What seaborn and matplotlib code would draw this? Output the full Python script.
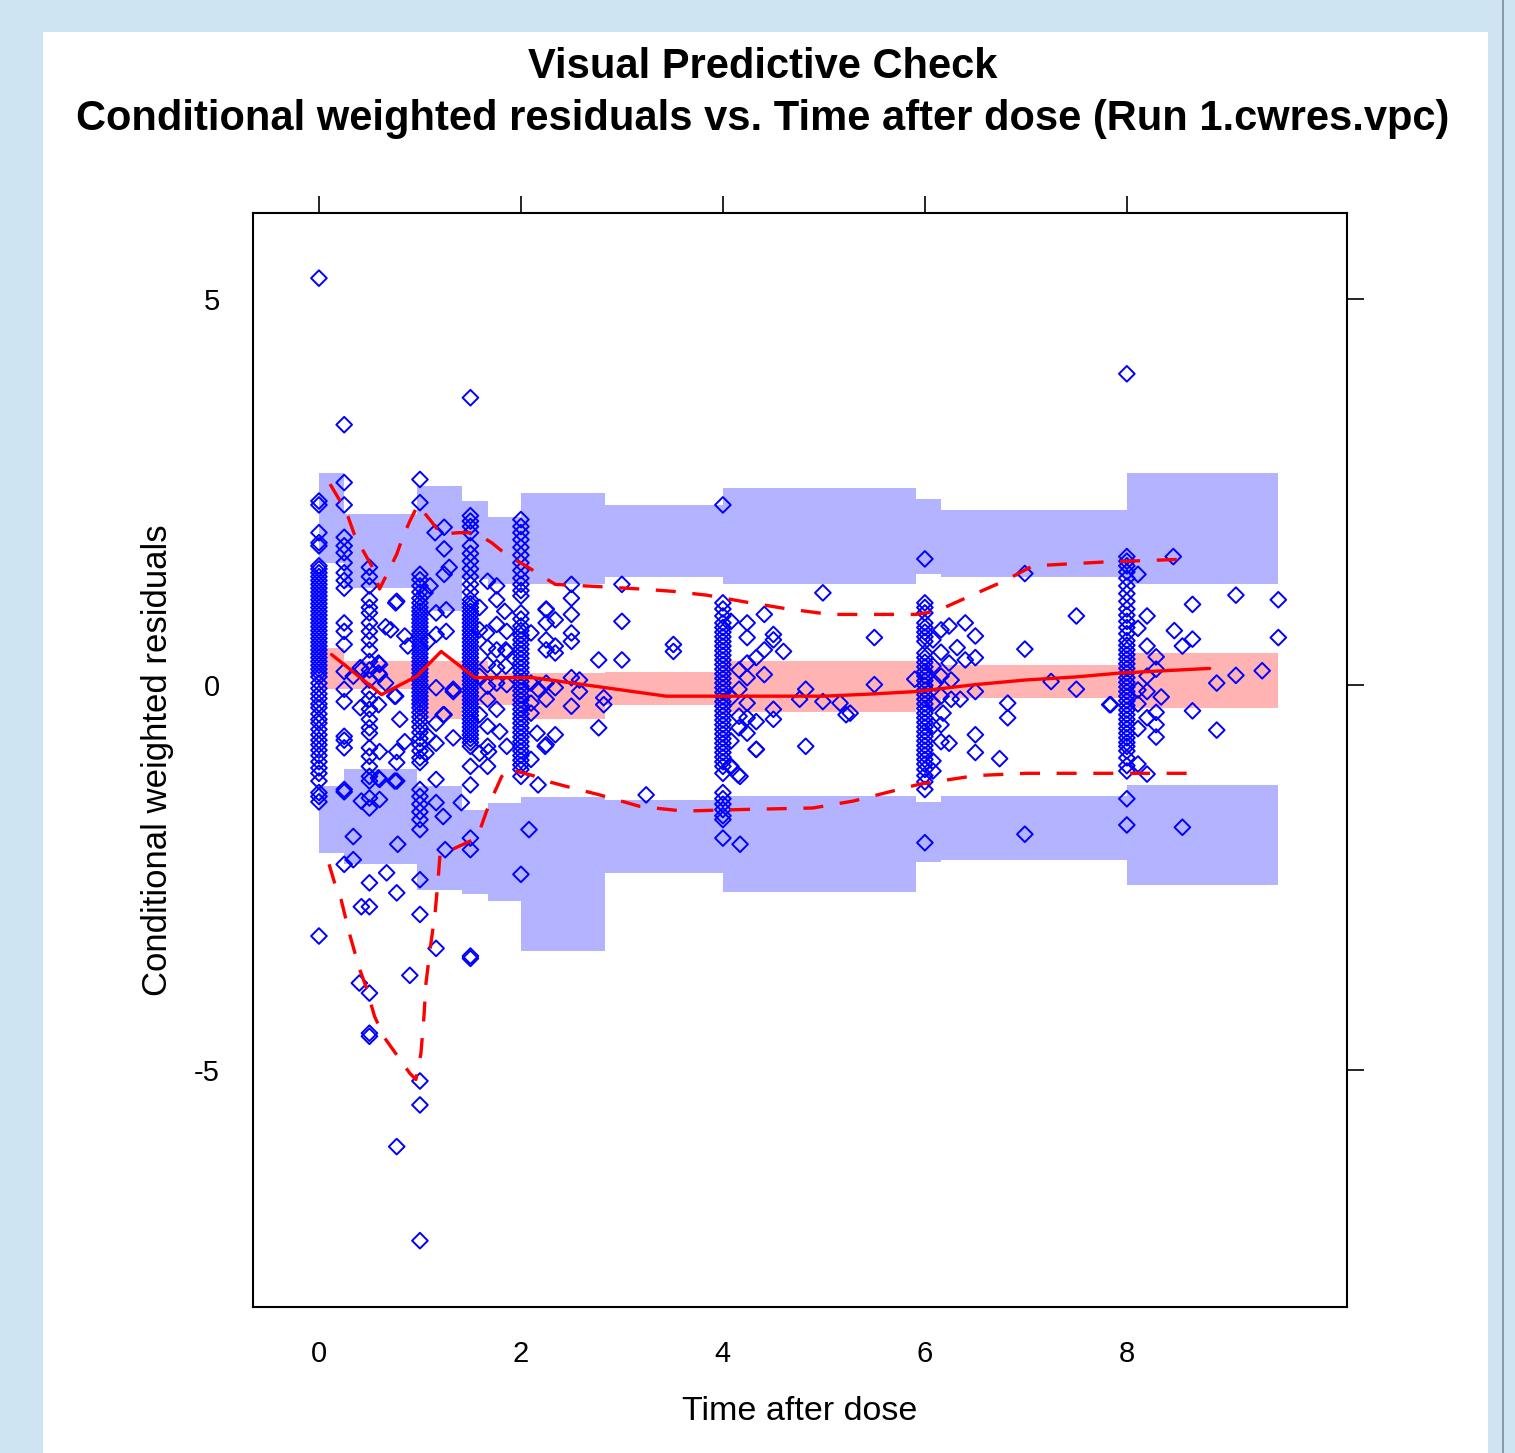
import numpy as np
import pandas as pd
import matplotlib
matplotlib.use("Agg")
import matplotlib.pyplot as plt
import seaborn as sns
from matplotlib.patches import Rectangle

# observed CWRES at nominal sampling times (dense columns)
y_t0 = [5.27, 2.38, 2.33, 1.97, 1.84, 1.80, 1.54, 1.50, 1.45, 1.40, 1.35, 1.30, 1.25, 1.20,
        1.15, 1.10, 1.05, 1.00, 0.95, 0.90, 0.85, 0.80, 0.75, 0.70, 0.65, 0.60, 0.55, 0.50,
        0.45, 0.40, 0.35, 0.30, 0.25, 0.20, 0.15, 0.10, 0.02, -0.05, -0.12, -0.18, -0.25,
        -0.30, -0.38, -0.45, -0.50, -0.58, -0.65, -0.72, -0.78, -0.85, -0.92, -1.00, -1.08,
        -1.15, -1.25, -1.40, -1.45, -1.52, -3.26]
y_t025 = [3.37, 2.62, 2.33, 1.91, 1.80, 1.71, 1.58, 1.45, 1.35, 1.25, 0.80, 0.69, 0.52,
          0.17, -0.06, -0.22, -0.67, -0.72, -0.82, -1.36, -1.39, -2.33]
y_t05 = [1.52, 1.40, 1.28, 1.10, 1.00, 0.93, 0.80, 0.69, 0.58, 0.45, 0.30, 0.19, 0.06,
         -0.09, -0.19, -0.32, -0.45, -0.56, -0.63, -0.82, -0.93, -1.06, -1.19, -1.25,
         -1.47, -1.60, -2.57, -2.88, -4.00, -4.52, -4.56]
y_t1 = [2.66, 2.36, 1.43, 1.36, 1.28, 1.20, 1.12, 1.06, 1.00, 0.95, 0.90, 0.85, 0.80, 0.75,
        0.70, 0.65, 0.60, 0.55, 0.50, 0.45, 0.40, 0.35, 0.30, 0.25, 0.20, 0.15, 0.10, 0.05,
        0.00, -0.05, -0.10, -0.15, -0.20, -0.25, -0.30, -0.36, -0.42, -0.48, -0.55, -0.62,
        -0.70, -0.78, -0.86, -0.95, -1.01, -1.36, -1.45, -1.55, -1.65, -1.75, -1.88, -2.53,
        -2.98, -5.14, -5.45, -7.21]
y_t15 = [3.72, 2.19, 2.12, 2.05, 1.97, 1.80, 1.70, 1.60, 1.50, 1.40, 1.30, 1.20, 1.10, 1.05,
         1.00, 0.95, 0.90, 0.85, 0.80, 0.75, 0.70, 0.65, 0.60, 0.55, 0.50, 0.45, 0.40, 0.35,
         0.30, 0.25, 0.20, 0.15, 0.10, 0.05, 0.00, -0.05, -0.10, -0.15, -0.20, -0.25, -0.30,
         -0.35, -0.40, -0.45, -0.50, -0.55, -0.60, -0.65, -0.70, -0.75, -0.80, -1.06, -1.30,
         -1.99, -2.14, -3.52, -3.55]
y_t2 = [2.14, 2.05, 1.97, 1.88, 1.78, 1.68, 1.58, 1.48, 1.38, 1.30, 1.22, 1.15, 0.93, 0.85,
        0.76, 0.70, 0.64, 0.58, 0.52, 0.46, 0.40, 0.34, 0.28, 0.22, 0.16, 0.10, 0.04, -0.02,
        -0.08, -0.14, -0.20, -0.26, -0.32, -0.38, -0.44, -0.50, -0.56, -0.62, -0.68, -0.74,
        -0.80, -0.86, -0.92, -0.98, -1.04, -1.10, -1.19, -2.46]
y_t4 = [2.33, 1.06, 0.98, 0.89, 0.80, 0.74, 0.68, 0.62, 0.56, 0.50, 0.44, 0.38, 0.32, 0.26,
        0.20, 0.14, 0.08, 0.02, -0.04, -0.10, -0.16, -0.22, -0.28, -0.34, -0.40, -0.46,
        -0.52, -0.58, -0.64, -0.70, -0.76, -0.82, -0.88, -0.94, -1.00, -1.06, -1.15, -1.40,
        -1.48, -1.55, -1.62, -1.70, -1.75, -1.99]
y_t6 = [1.63, 1.06, 1.00, 0.93, 0.80, 0.74, 0.68, 0.62, 0.56, 0.41, 0.35, 0.29, 0.23, 0.17,
        0.11, 0.05, -0.01, -0.07, -0.13, -0.19, -0.25, -0.31, -0.37, -0.43, -0.49, -0.55,
        -0.61, -0.67, -0.73, -0.79, -0.85, -0.91, -0.97, -1.03, -1.10, -1.18, -1.26, -1.36,
        -2.05]
y_t8 = [4.03, 1.66, 1.60, 1.54, 1.46, 1.38, 1.28, 1.18, 1.08, 0.98, 0.90, 0.82, 0.74, 0.66,
        0.57, 0.51, 0.45, 0.39, 0.33, 0.27, 0.21, 0.15, 0.09, 0.03, -0.03, -0.09, -0.15,
        -0.21, -0.27, -0.33, -0.39, -0.45, -0.51, -0.57, -0.63, -0.69, -0.75, -0.80, -0.86,
        -0.95, -1.05, -1.12, -1.48, -1.82]

# observed CWRES at off-nominal times
scat_x = [0.34, 0.42, 0.60, 0.60, 0.66, 0.71, 0.76, 0.77, 0.85, 0.88, 0.76, 0.80, 0.85, 0.77,
          0.77, 0.60, 0.60, 0.77, 0.34, 0.42, 0.60, 0.78, 0.67, 0.77, 0.42, 0.34, 0.90, 0.77,
          0.40, 0.59, 0.75, 0.41, 0.59, 0.59, 0.75, 0.59, 0.41, 0.66,
          1.15, 1.24, 1.24, 1.29, 1.24, 1.10, 1.05, 1.67, 1.76, 1.76, 1.59, 1.84, 1.16, 1.26,
          1.16, 1.26, 1.08, 1.16, 1.33, 1.24, 1.16, 1.08, 1.16, 1.33, 1.06, 1.16, 1.23, 1.16,
          1.41, 1.59, 1.66, 1.76, 1.86, 1.67, 1.76, 1.86, 1.67, 1.76, 1.59, 1.67, 1.76, 1.86,
          1.67, 1.76, 1.59, 1.67, 1.79, 1.67, 1.59, 1.67, 1.86, 1.85, 1.85, 1.16, 1.25, 1.68,
          1.33, 1.23,
          2.50, 3.00, 2.50, 2.50, 3.00, 2.50, 2.50, 2.25, 2.34, 2.25, 2.10, 2.25, 2.34, 2.25,
          2.34, 2.77, 3.00, 3.51, 3.51, 2.50, 2.58, 2.58, 2.50, 2.82, 2.82, 2.10, 2.17, 2.25,
          2.34, 2.10, 2.25, 2.10, 2.16, 2.34, 2.25, 2.77, 2.10, 2.17, 3.24, 2.08, 2.25, 2.24,
          4.08, 4.24, 4.24, 4.41, 4.50, 4.50, 4.60, 4.41, 4.33, 4.24, 4.16, 4.24, 4.41, 4.16,
          4.24, 4.08, 4.16, 4.24, 4.33, 4.16, 4.24, 4.08, 4.33, 4.07, 4.15, 4.50, 4.50, 4.82,
          4.82, 4.99, 4.76, 4.99, 5.16, 5.22, 4.17, 4.08, 4.17, 4.33, 5.50, 5.50, 5.26,
          5.90, 6.16, 6.24, 6.08, 6.16, 6.24, 6.08, 6.16, 6.26, 6.10, 6.16, 6.08, 6.26, 6.35,
          6.18, 6.16, 6.08, 6.16, 6.24, 6.08, 6.08, 6.40, 6.50, 6.32, 6.40, 6.50, 6.50, 6.82,
          6.82, 6.50, 6.50, 6.74, 6.99, 6.99, 7.25, 7.50, 7.50, 7.83, 6.99,
          8.11, 8.20, 8.11, 8.20, 8.29, 8.20, 8.29, 8.11, 8.20, 8.34, 8.11, 8.20, 8.29, 8.29,
          8.29, 8.11, 8.11, 8.20, 8.46, 8.47, 8.55, 8.65, 8.65, 9.08, 9.50, 9.50, 8.89, 9.08,
          9.34, 8.65, 8.89, 7.84, 8.55]
scat_y = [0.11, 0.19, 0.26, 0.13, 0.75, 0.71, 1.06, 1.08, 0.63, 0.50, -0.15, -0.45, -0.74,
          -0.87, -1.01, -0.87, -1.23, -1.25, -1.97, -1.51, -1.49, -2.07, -2.44, -2.70, -2.88,
          -2.27, -3.77, -5.99, -3.87, -1.21, -1.25, 0.22, 0.28, 0.15, -0.15, -0.26, -0.30, 0.02,
          1.97, 2.04, 1.76, 1.52, 1.43, 1.28, 1.19, 1.34, 1.28, 1.10, 1.00, 0.95, 0.93, 0.97,
          0.65, 0.69, 0.56, -0.04, -0.06, -0.39, -0.50, -0.67, -0.76, -0.69, -0.89, -1.23,
          -1.71, -1.53, -1.53, 0.71, 0.67, 0.78, 0.69, 0.48, 0.45, 0.43, 0.26, 0.22, 0.11,
          -0.02, 0.02, 0.00, -0.19, -0.32, -0.39, -0.54, -0.61, -0.80, -0.89, -1.06, -0.80,
          0.45, 0.24, -3.42, -2.14, -0.87, -0.09, -0.39,
          1.30, 1.30, 1.12, 0.91, 0.82, 0.67, 0.56, 0.97, 0.84, 0.80, 0.67, 0.58, 0.50, 0.45,
          0.41, 0.32, 0.32, 0.52, 0.43, 0.09, 0.06, -0.09, -0.28, -0.17, -0.26, 0.02, -0.06,
          0.02, -0.04, -0.24, -0.19, -0.37, -0.63, -0.65, -0.78, -0.56, -0.97, -1.30, -1.43,
          -1.88, 0.98, -0.80,
          0.82, 0.80, 0.61, 0.91, 0.65, 0.58, 0.43, 0.45, 0.35, 0.28, 0.19, 0.09, 0.13, -0.06,
          -0.24, -0.17, -0.41, -0.43, -0.48, -0.56, -0.63, -0.73, -0.84, -1.06, -1.17, -0.32,
          -0.45, -0.06, -0.80, 1.19, -0.19, -0.22, -0.24, -0.39, -1.19, -1.06, -2.07, -0.84,
          0.61, 0.00, -0.37,
          0.07, 0.71, 0.76, 0.58, 0.42, 0.28, 0.24, 0.11, 0.06, 0.02, -0.15, -0.24, -0.19,
          -0.19, -0.37, -0.52, -0.54, -0.74, -0.76, -0.99, -1.12, 0.80, 0.63, 0.48, 0.32,
          0.35, -0.09, -0.24, -0.43, -0.65, -0.88, -0.96, 1.44, 0.46, 0.04, 0.89, -0.06,
          -0.26, -1.94,
          1.43, 0.89, 0.73, 0.50, 0.36, 0.11, 0.20, -0.07, -0.09, -0.16, -0.25, -0.43, -0.36,
          -0.52, -0.68, -0.57, -1.03, -1.16, 1.66, 0.70, 0.50, 0.59, 1.04, 1.16, 1.10, 0.61,
          0.02, 0.12, 0.18, -0.34, -0.59, -0.26, -1.85]

# simulated prediction intervals, binned
bin_edges = [0.0, 0.25, 0.97, 1.42, 1.67, 2.0, 2.83, 4.0, 5.91, 6.16, 8.0, 9.5]
pi_hi_top = [2.75, 2.21, 2.58, 2.38, 2.17, 2.49, 2.33, 2.55, 2.41, 2.27, 2.75]
pi_hi_bot = [1.58, 1.25, 0.95, 1.37, 1.30, 1.30, 1.39, 1.30, 1.43, 1.39, 1.31]
pi_med_top = [0.48, 0.30, 0.30, 0.30, 0.15, 0.15, 0.17, 0.30, 0.28, 0.26, 0.41]
pi_med_bot = [-0.06, -0.06, -0.45, -0.26, -0.26, -0.45, -0.26, -0.35, -0.30, -0.18, -0.30]
pi_lo_top = [-1.32, -1.10, -1.32, -1.62, -1.53, -1.46, -1.49, -1.45, -1.52, -1.45, -1.30]
pi_lo_bot = [-2.18, -2.32, -2.66, -2.71, -2.80, -3.46, -2.44, -2.69, -2.30, -2.27, -2.60]

# observed percentiles
med_x = [0.125, 0.62, 0.97, 1.21, 1.545, 2.12, 2.62, 3.11, 3.44, 4.0, 4.5, 5.0, 5.5, 5.91,
         6.5, 7.0, 7.5, 7.93, 8.82]
med_y = [0.39, -0.13, 0.11, 0.43, 0.09, 0.09, 0.0, -0.09, -0.15, -0.15, -0.15, -0.15, -0.12,
         -0.09, 0.0, 0.06, 0.10, 0.15, 0.21]
p95_x = [0.11, 0.21, 0.29, 0.35, 0.44, 0.53, 0.60, 0.68, 0.77, 0.83, 0.90, 0.98, 1.11, 1.21,
         1.38, 1.55, 1.71, 1.87, 2.05, 2.18, 2.34, 2.78, 3.18, 3.50, 3.84, 4.23, 4.60, 5.06,
         5.91, 6.11, 6.45, 6.78, 7.07, 7.78, 8.65]
p95_y = [2.60, 2.38, 2.17, 1.95, 1.73, 1.52, 1.24, 1.45, 1.69, 1.91, 2.12, 2.33, 2.12, 1.95,
         1.97, 1.97, 1.84, 1.67, 1.54, 1.43, 1.30, 1.27, 1.24, 1.21, 1.16, 1.07, 0.99, 0.91,
         0.91, 0.95, 1.15, 1.34, 1.54, 1.59, 1.63]
p05_x = [0.10, 0.155, 0.22, 0.30, 0.40, 0.47, 0.55, 0.65, 0.90, 0.96, 1.01, 1.04, 1.06, 1.10,
         1.15, 1.18, 1.20, 1.28, 1.53, 1.59, 1.66, 1.72, 1.81, 1.86, 2.12, 2.25, 2.45, 2.78,
         3.18, 3.61, 4.17, 4.89, 5.29, 5.62, 5.95, 6.50, 7.0, 8.0, 8.72]
p05_y = [-2.33, -2.57, -2.79, -3.22, -3.68, -3.93, -4.30, -4.58, -5.04, -5.12, -4.78, -4.30,
         -3.87, -3.44, -2.96, -2.53, -2.18, -2.16, -2.01, -1.90, -1.64, -1.45, -1.19, -1.09,
         -1.18, -1.25, -1.32, -1.43, -1.58, -1.64, -1.62, -1.60, -1.51, -1.40, -1.29, -1.18,
         -1.15, -1.15, -1.15]

col_times = [0.0, 0.25, 0.5, 1.0, 1.5, 2.0, 4.0, 6.0, 8.0]
col_values = [y_t0, y_t025, y_t05, y_t1, y_t15, y_t2, y_t4, y_t6, y_t8]

obs = pd.concat(
    [pd.DataFrame({"time": t, "cwres": v}) for t, v in zip(col_times, col_values)]
    + [pd.DataFrame({"time": scat_x, "cwres": scat_y})],
    ignore_index=True,
)

sns.set_style("white")
plt.rcParams["font.family"] = ["Liberation Sans", "DejaVu Sans"]
plt.rcParams["axes.unicode_minus"] = False
plt.rcParams["text.color"] = "black"
plt.rcParams["axes.labelcolor"] = "black"

W, H = 1515, 1453
fig = plt.figure(figsize=(W / 100, H / 100), dpi=100)
fig.patch.set_facecolor("#cfe4f2")
fig.add_artist(Rectangle((43 / W, 0), (1488 - 43) / W, (H - 32) / H,
                         transform=fig.transFigure, facecolor="white", edgecolor="none",
                         zorder=0))
fig.add_artist(Rectangle((1502 / W, 0), 2 / W, 1, transform=fig.transFigure,
                         facecolor="#8a9aa6", edgecolor="none", zorder=0))

ax = fig.add_axes([253 / W, (H - 1307) / H, 1094 / W, 1094 / H])
ax.set_facecolor("white")

band_blue = "#b3b3ff"
band_red = "#ffb3b3"
edges = np.array(bin_edges)


def band(lo, hi, color):
    ax.fill_between(edges, lo + [lo[-1]], hi + [hi[-1]], step="post",
                    color=color, linewidth=0, zorder=1)


band(pi_hi_bot, pi_hi_top, band_blue)
band(pi_lo_bot, pi_lo_top, band_blue)
band(pi_med_bot, pi_med_top, band_red)

sns.scatterplot(data=obs, x="time", y="cwres", marker="D", s=64, facecolor="none",
                edgecolor="#0000ff", linewidth=1.4, ax=ax, zorder=3, legend=False)

sns.lineplot(x=med_x, y=med_y, sort=False, estimator=None, color="red", linewidth=2.4,
             ax=ax, zorder=4)
sns.lineplot(x=p95_x, y=p95_y, sort=False, estimator=None, color="red", linewidth=2.4,
             ax=ax, zorder=4)
ax.lines[-1].set_dashes((6, 5))
sns.lineplot(x=p05_x, y=p05_y, sort=False, estimator=None, color="red", linewidth=2.4,
             ax=ax, zorder=4)
ax.lines[-1].set_dashes((6, 5))

ax.set_xlim(-0.653, 10.18)
ax.set_ylim(-8.07, 6.115)
ax.set_xticks([0, 2, 4, 6, 8])
ax.set_yticks([-5, 0, 5])
ax.tick_params(axis="both", which="both", direction="out", length=12, width=1.2,
               top=True, right=True, labeltop=False, labelright=False,
               labelsize=21, pad=12, colors="black")
for sp in ax.spines.values():
    sp.set_visible(True)
    sp.set_linewidth(1.5)
    sp.set_color("black")

ax.set_xlabel("Time after dose", fontsize=24.5, labelpad=20)
ax.set_ylabel("Conditional weighted residuals", fontsize=25, labelpad=14)

fig.text(763 / W, 1 - 67 / H, "Visual Predictive Check", ha="center", va="center",
         fontsize=30, fontweight="bold", color="black")
fig.text(763 / W, 1 - 119 / H,
         "Conditional weighted residuals vs. Time after dose (Run 1.cwres.vpc)",
         ha="center", va="center", fontsize=30, fontweight="bold", color="black")

fig.savefig("out.png", dpi=100, facecolor=fig.get_facecolor())
